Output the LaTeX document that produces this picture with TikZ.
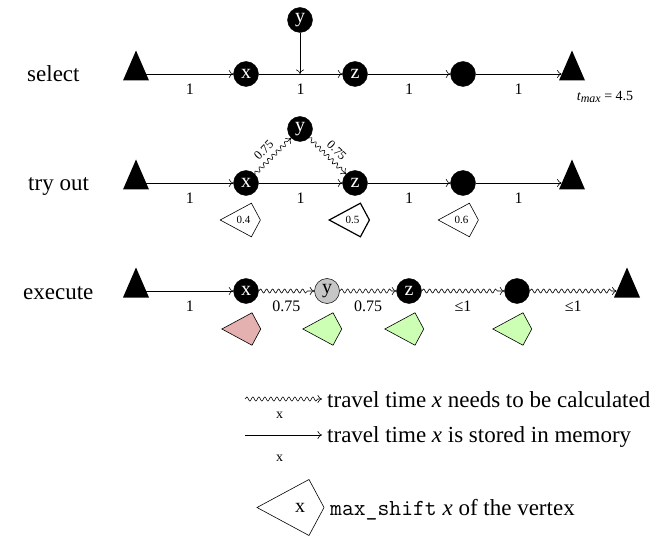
\documentclass[tikz,border=0pt]{standalone}
\usepackage{fontspec}
\setmainfont{Liberation Serif}
\usetikzlibrary{decorations.pathmorphing,arrows.meta}
\definecolor{kpink}{RGB}{228,176,176}
\definecolor{kgreen}{RGB}{204,255,180}
\definecolor{ygray}{RGB}{198,198,198}
\tikzset{
  vtx/.style={circle, fill=black, draw=black, inner sep=0pt, minimum size=25pt, text=white, font=\fontsize{20}{20}\selectfont},
  gvtx/.style={vtx, fill=ygray, text=black, line width=0.5pt},
  tribox/.style={inner sep=0pt, minimum width=20.4pt, minimum height=0pt},
  edge/.style={-{To[length=4.5pt, width=8pt]}, line width=0.6pt},
  wavy/.style={-{To[length=4.5pt, width=8pt]}, line width=0.6pt, decorate, decoration={snake, amplitude=2pt, segment length=6pt, post length=4pt}},
  elab/.style={font=\fontsize{16}{16}\selectfont, inner sep=0pt},
  dlab/.style={font=\fontsize{12.5}{12.5}\selectfont, inner sep=0pt},
  klab/.style={font=\fontsize{11}{11}\selectfont, inner sep=0pt},
  rowlab/.style={font=\fontsize{23}{23}\selectfont, anchor=base west, inner sep=0pt},
  kitebox/.style={draw=black, line width=0.6pt, fill=white},
}
\newcommand{\triangnode}[3]{%
  \node[tribox] (#1) at (#2,#3) {};
  \fill (#2-13,#3-6.5) -- (#2+13,#3-6.5) -- (#2,#3+23.5) -- cycle;}
\newcommand{\kiteshape}[6]{% x, y, scale, style, text, name
  \begin{scope}[shift={(#1,#2)}, scale=#3]
    \draw[#4] (-33,0) -- (19,28) -- (34,0) -- (19,-28) -- cycle;
    \node[klab] (#6) at (6,0) {#5};
  \end{scope}}
\begin{document}
\begin{tikzpicture}[x=1pt, y=1pt]
\useasboundingbox (0,0) rectangle (672,539);

% ---------- select ----------
\node[rowlab] (lsel) at (27,457) {select};
\triangnode{s0}{136}{465}
\node[vtx] (x1) at (246,465) {x};
\node[vtx] (y1) at (300,519) {y};
\node[vtx] (z1) at (355,465) {z};
\node[vtx] (d1) at (463,465) {};
\triangnode{e1}{572}{465}
\coordinate (ys) at (300,465);
\draw[edge] (s0) -- node[elab, midway, yshift=-15pt] {1} (x1);
\draw[edge] (x1) -- node[elab, midway, yshift=-15pt] {1} (z1);
\draw[edge] (z1) -- node[elab, midway, yshift=-15pt] {1} (d1);
\draw[edge] (d1) -- node[elab, midway, yshift=-15pt] {1} (e1);
\draw[edge] (y1) -- (ys);
\node[font=\fontsize{14}{14}\selectfont, inner sep=0pt] (tmax) at (605,442)
  {{\itshape t\raisebox{-2.5pt}{\fontsize{12}{12}\selectfont max}} = 4.5};

% ---------- try out ----------
\node[rowlab] (ltry) at (28,348) {try out};
\triangnode{s2}{136}{356}
\node[vtx] (x2) at (246,356) {x};
\node[vtx] (y2) at (300,410) {y};
\node[vtx] (z2) at (355,356) {z};
\node[vtx] (d2) at (463,356) {};
\triangnode{e2}{572}{356}
\draw[edge] (s2) -- node[elab, midway, yshift=-15pt] {1} (x2);
\draw[edge] (x2) -- node[elab, midway, yshift=-15pt] {1} (z2);
\draw[edge] (z2) -- node[elab, midway, yshift=-15pt] {1} (d2);
\draw[edge] (d2) -- node[elab, midway, yshift=-15pt] {1} (e2);
\draw[wavy] (x2) -- node[dlab, sloped, above=6pt, pos=0.45] {0.75} (y2);
\draw[wavy] (y2) -- node[dlab, sloped, above=6pt, pos=0.55] {0.75} (z2);
\kiteshape{240}{319}{0.6}{kitebox}{0.4}{k1}
\kiteshape{349}{319}{0.6}{kitebox, line width=1.2pt}{0.5}{k2}
\kiteshape{458}{319}{0.6}{kitebox}{0.6}{k3}

% ---------- execute ----------
\node[rowlab] (lexe) at (23,240) {execute};
\triangnode{s3}{136}{248}
\node[vtx] (x3) at (246,248) {x};
\node[gvtx] (y3) at (327,248) {y};
\node[vtx] (z3) at (409,248) {z};
\node[vtx] (d3) at (517,248) {};
\triangnode{e3}{627}{248}
\draw[edge] (s3) -- node[elab, midway, yshift=-15pt] {1} (x3);
\draw[wavy] (x3) -- node[elab, midway, yshift=-15pt] {0.75} (y3);
\draw[wavy] (y3) -- node[elab, midway, yshift=-15pt] {0.75} (z3);
\draw[wavy] (z3) -- node[elab, midway, yshift=-15pt] {≤1} (d3);
\draw[wavy] (d3) -- node[elab, midway, yshift=-15pt] {≤1} (e3);
\kiteshape{241}{210}{0.58}{kitebox, fill=kpink}{}{k4}
\kiteshape{322}{210}{0.58}{kitebox, fill=kgreen}{}{k5}
\kiteshape{404}{210}{0.58}{kitebox, fill=kgreen}{}{k6}
\kiteshape{512}{210}{0.58}{kitebox, fill=kgreen}{}{k7}

% ---------- legend ----------
\coordinate (lw1) at (245,140);
\coordinate (lw2) at (322,140);
\draw[wavy] (lw1) -- node[elab, font=\fontsize{14}{14}\selectfont, pos=0.45, yshift=-16pt] {x} (lw2);
\node[rowlab] (t1) at (327,132) {travel time \textit{x} needs to be calculated};
\coordinate (ls1) at (245,104);
\coordinate (ls2) at (322,104);
\draw[edge] (ls1) -- node[elab, font=\fontsize{14}{14}\selectfont, pos=0.45, yshift=-23pt] {x} (ls2);
\node[rowlab] (t2) at (327,97) {travel time \textit{x} is stored in memory};
\begin{scope}[shift={(290,31.5)}]
  \draw[kitebox] (-33,0) -- (19,28) -- (34,0) -- (19,-28) -- cycle;
  \node[font=\fontsize{20}{20}\selectfont, inner sep=0pt] (kl) at (10,0) {x};
\end{scope}
\node[rowlab] (t3) at (330,24) {\texttt{max\_shift} \textit{x} of the vertex};
\end{tikzpicture}
\end{document}
